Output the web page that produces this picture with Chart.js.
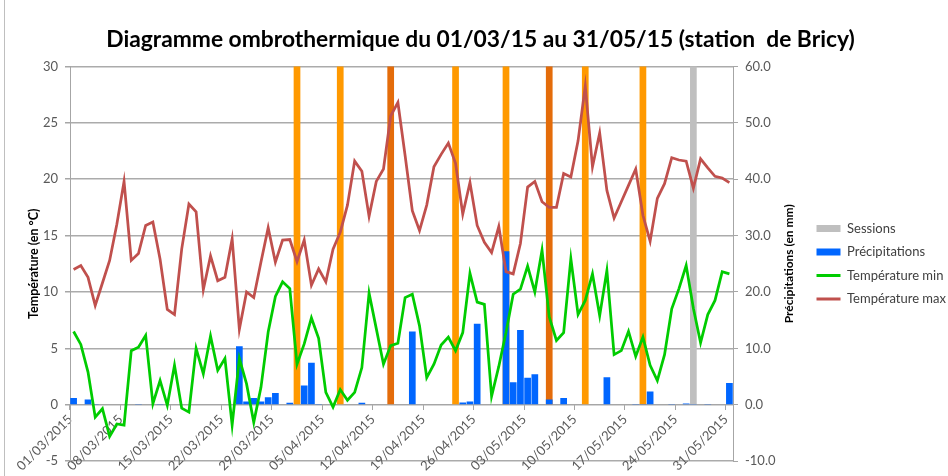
<!DOCTYPE html>
<html lang="fr">
<head>
<meta charset="utf-8">
<title>Diagramme ombrothermique - Bricy</title>
<script src="https://cdn.jsdelivr.net/npm/chart.js@4/dist/chart.umd.min.js"></script>
<style>
    html, body { margin: 0; padding: 0; background: #fff; }
    #wrap { position: relative; width: 948px; height: 476px; overflow: hidden; }
    #wrap:before { content: ''; position: absolute; left: 4px; top: 0; bottom: 0; border-left: 1px solid #bfbfbf; }
</style>
</head>
<body>
<div id="wrap"><canvas id="chart" width="948" height="476"></canvas></div>
<script>
// Daily data, 01/03/2015 -> 31/05/2015 (station de Bricy)
const startDay = Date.UTC(2015, 2, 1);
const dayCount = 92;

const tempMin = [
    6.5, 5.35, 2.9, -1.1, -0.35, -2.8, -1.7, -1.8, 4.8, 5.1,
    6.15, 0.1, 2.15, -0.05, 3.5, -0.3, -0.65, 5.0, 2.75, 6.1,
    3.05, 4.1, -1.8, 4.1, 1.85, -1.55, 1.55, 6.45, 9.6, 10.9,
    10.3, 3.6, 5.4, 7.7, 5.9, 1.1, -0.2, 1.35, 0.4, 1.1,
    3.3, 9.9, 6.75, 3.6, 5.25, 5.45, 9.5, 9.8, 7.0, 2.4,
    3.6, 5.3, 6.0, 4.8, 6.4, 11.65, 9.1, 8.9, 0.75, 3.4,
    6.4, 9.8, 10.25, 12.3, 10.0, 13.7, 7.8, 5.7, 6.4, 12.95,
    8.0, 9.25, 11.6, 7.9, 11.9, 4.45, 4.8, 6.5, 4.3, 6.0,
    3.5, 2.15, 4.45, 8.5, 10.3, 12.35, 8.55, 5.5, 8.0, 9.25,
    11.8, 11.6
];

const tempMax = [
    12.0, 12.35, 11.3, 8.8, 10.8, 12.8, 16.0, 19.8, 12.8, 13.4,
    15.9, 16.2, 12.9, 8.45, 8.0, 13.8, 17.8, 17.1, 10.2, 13.2,
    11.0, 11.3, 14.7, 6.7, 10.0, 9.5, 12.65, 15.7, 12.65, 14.6,
    14.65, 12.7, 14.6, 10.6, 12.05, 10.9, 13.8, 15.3, 17.7, 21.6,
    20.7, 16.7, 19.8, 20.9, 25.6, 26.8, 22.1, 17.2, 15.45, 17.7,
    21.1, 22.2, 23.2, 21.4, 16.9, 19.7, 15.9, 14.4, 13.5, 15.8,
    11.8, 11.6, 14.3, 19.3, 19.8, 18.0, 17.5, 17.5, 20.5, 20.2,
    23.4, 28.25, 21.1, 24.1, 19.0, 16.55, 18.0, 19.45, 20.9, 16.8,
    14.5, 18.3, 19.6, 21.9, 21.7, 21.6, 19.2, 21.8, 21.0, 20.25,
    20.1, 19.7
];

const precip = [
    1.2, 0, 0.95, 0.15, 0, 0, 0, 0, 0, 0.15,
    0, 0, 0.15, 0, 0, 0, 0, 0, 0, 0,
    0, 0, 0, 10.4, 0.6, 1.2, 0.6, 1.35, 2.1, 0,
    0.35, 0, 3.4, 7.45, 0.15, 0, 0, 0, 0, 0,
    0.35, 0, 0, 0, 0, 0, 0, 13.0, 0, 0,
    0, 0, 0, 0, 0.4, 0.6, 14.35, 0, 0, 0,
    27.2, 4.0, 13.25, 4.8, 5.4, 0, 0.95, 0, 1.2, 0,
    0, 0, 0, 0, 4.9, 0, 0, 0, 0.15, 0.15,
    2.35, 0, 0, 0.15, 0, 0.25, 0.15, 0, 0.15, 0,
    0, 3.85
];

// Session days and their bar colours
const sessionDates = ['01/04/2015', '07/04/2015', '14/04/2015', '23/04/2015', '30/04/2015',
                      '06/05/2015', '11/05/2015', '19/05/2015', '26/05/2015'];
const sessionColors = ['#FF9900', '#FF9900', '#E46C0A', '#FF9900', '#FF9900',
                       '#E46C0A', '#FF9900', '#FF9900', '#BFBFBF'];
const sessionValue = 60;

const tempTicks = { min: -5, max: 30, step: 5 };
const precipTicks = { min: -10, max: 60, step: 10 };

const chartTitle = 'Diagramme ombrothermique du 01/03/15 au 31/05/15 (station  de Bricy)';
const tempTitle = 'Température (en °C)';
const precipTitle = 'Précipitations (en mm)';

// Category labels dd/mm/yyyy
const labels = [];
for (let i = 0; i < dayCount; i++) {
    const d = new Date(startDay + i * 86400000);
    const dd = String(d.getUTCDate()).padStart(2, '0');
    const mm = String(d.getUTCMonth() + 1).padStart(2, '0');
    labels.push(dd + '/' + mm + '/' + d.getUTCFullYear());
}

const sessionData = labels.map(l => sessionDates.indexOf(l) >= 0 ? sessionValue : null);
const sessionBg = labels.map(l => {
    const k = sessionDates.indexOf(l);
    return k >= 0 ? sessionColors[k] : 'rgba(0,0,0,0)';
});

const FONT = 'Lato, "Liberation Sans", sans-serif';
const axisGray = '#A6A6A6';
const gridGray = '#ABABAB';
const tickText = '#595959';

Chart.defaults.font.family = FONT;

// Right axis title reads bottom-to-top like the left one
const rightTitlePlugin = {
    id: 'rightTitle',
    afterDraw(chart) {
        const s = chart.scales.y2;
        const c = chart.ctx;
        c.save();
        c.translate(s.left + 56, (s.top + s.bottom) / 2);
        c.rotate(-Math.PI / 2);
        c.font = 'bold 12px ' + FONT;
        c.fillStyle = '#000';
        c.textAlign = 'center';
        c.textBaseline = 'middle';
        c.fillText(precipTitle, 0, 0);
        c.restore();
    }
};

const ctx = document.getElementById('chart').getContext('2d');
new Chart(ctx, {
    type: 'bar',
    data: {
        labels: labels,
        datasets: [{
            label: 'Sessions',
            data: sessionData,
            backgroundColor: sessionBg,
            yAxisID: 'y2',
            grouped: false,
            barPercentage: 0.93,
            categoryPercentage: 1,
            order: 3
        }, {
            label: 'Précipitations',
            data: precip,
            backgroundColor: '#0066FF',
            yAxisID: 'y2',
            grouped: false,
            barPercentage: 0.93,
            categoryPercentage: 1,
            order: 2
        }, {
            type: 'line',
            label: 'Température min',
            data: tempMin,
            borderColor: '#00CC00',
            backgroundColor: '#00CC00',
            borderWidth: 2.75,
            pointRadius: 0,
            tension: 0,
            yAxisID: 'y',
            order: 1
        }, {
            type: 'line',
            label: 'Température max',
            data: tempMax,
            borderColor: '#C0504D',
            backgroundColor: '#C0504D',
            borderWidth: 2.75,
            pointRadius: 0,
            tension: 0,
            yAxisID: 'y',
            order: 0
        }]
    },
    options: {
        responsive: false,
        animation: false,
        layout: { padding: { left: 5, right: -8, top: 0, bottom: 14 } },
        plugins: {
            title: {
                display: true,
                text: chartTitle,
                color: '#000',
                font: { size: 22.8, weight: 'bold' },
                padding: { top: 26, bottom: 13 }
            },
            legend: {
                position: 'right',
                fullSize: false,
                labels: {
                    usePointStyle: true,
                    pointStyleWidth: 24,
                    boxHeight: 7,
                    padding: 10.5,
                    color: '#404040',
                    font: { size: 13 },
                    generateLabels: function(chart) {
                        const items = Chart.defaults.plugins.legend.labels.generateLabels(chart);
                        items.forEach(it => {
                            const ds = chart.data.datasets[it.datasetIndex];
                            if (ds.type === 'line') {
                                it.pointStyle = 'line';
                                it.strokeStyle = ds.borderColor;
                                it.lineWidth = 3;
                            } else {
                                it.pointStyle = 'rect';
                                it.fillStyle = it.datasetIndex === 0 ? '#BFBFBF' : ds.backgroundColor;
                                it.strokeStyle = 'rgba(0,0,0,0)';
                                it.lineWidth = 0;
                            }
                        });
                        return items.sort((a, b) => a.datasetIndex - b.datasetIndex);
                    }
                }
            },
            tooltip: { enabled: false }
        },
        scales: {
            x: {
                type: 'category',
                position: { y: 0 },
                offset: true,
                grid: {
                    offset: true,
                    drawOnChartArea: false,
                    tickLength: 5,
                    tickColor: c => c.index % 7 === 0 ? axisGray : 'rgba(0,0,0,0)'
                },
                border: { display: true, color: axisGray },
                ticks: {
                    autoSkip: false,
                    minRotation: 45,
                    maxRotation: 45,
                    padding: 2,
                    labelOffset: -3.5,
                    color: tickText,
                    font: { size: 13 },
                    callback: function(v, i) {
                        return i % 7 === 0 ? this.getLabelForValue(v) : '';
                    }
                }
            },
            y: {
                position: 'left',
                min: tempTicks.min,
                max: tempTicks.max,
                ticks: { stepSize: tempTicks.step, padding: 7, color: tickText, font: { size: 13 } },
                grid: { color: gridGray, lineWidth: 1.5, tickColor: axisGray, tickLength: 5 },
                border: { color: axisGray },
                title: {
                    display: true,
                    text: tempTitle,
                    color: '#000',
                    font: { size: 12.5, weight: 'bold' },
                    padding: { top: 21, bottom: 0 }
                },
                afterFit: s => { s.width = 65; }
            },
            y2: {
                position: 'right',
                min: precipTicks.min,
                max: precipTicks.max,
                ticks: {
                    stepSize: precipTicks.step,
                    padding: 7,
                    color: tickText,
                    font: { size: 13 },
                    callback: v => Number(v).toFixed(1)
                },
                grid: { drawOnChartArea: false, tickColor: axisGray, tickLength: 5 },
                border: { color: axisGray },
                afterFit: s => { s.width = 73; }
            }
        }
    },
    plugins: [rightTitlePlugin]
});
</script>
</body>
</html>
